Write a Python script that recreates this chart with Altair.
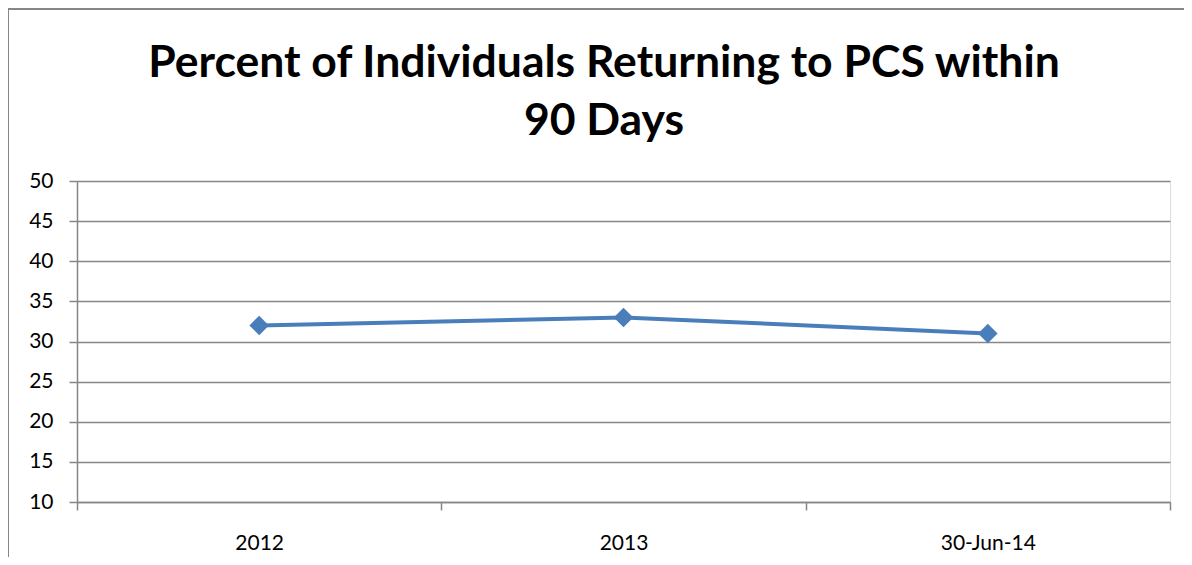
import altair as alt
import pandas as pd

categories = ["2012", "2013", "30-Jun-14"]
values = [32, 33, 31]
y_ticks = [10, 15, 20, 25, 30, 35, 40, 45, 50]
title_lines = ["Percent of Individuals Returning to PCS within", "90 Days"]

df = pd.DataFrame({"period": categories, "pct": values})

FONT = "Lato"
GRAY = "#868686"
BLUE = "#4a7ebb"

x_enc = alt.X(
    "period:N",
    sort=categories,
    scale=alt.Scale(paddingInner=0, paddingOuter=0),
    axis=alt.Axis(
        title=None, labelAngle=0, tickBand="extent", grid=False,
        domainColor=GRAY, domainWidth=1.5, tickColor=GRAY, tickWidth=1.5,
        tickSize=8, labelPadding=22, labelFontSize=21, labelFont=FONT,
        labelColor="black",
    ),
)
y_enc = alt.Y(
    "pct:Q",
    scale=alt.Scale(domain=[10, 50], nice=False, zero=False),
    axis=alt.Axis(
        title=None, values=y_ticks, grid=True, gridColor=GRAY, gridWidth=1.5,
        domainColor=GRAY, domainWidth=1.5, tickColor=GRAY, tickWidth=1.5,
        tickSize=8, labelPadding=16, labelFontSize=21, labelFont=FONT,
        labelColor="black",
    ),
)

line = alt.Chart(df).mark_line(color=BLUE, strokeWidth=4).encode(x=x_enc, y=y_enc)
pts = alt.Chart(df).mark_point(
    shape="diamond", filled=True, color=BLUE, size=380, opacity=1
).encode(x=x_enc, y=y_enc)

frame_df = pd.DataFrame({"k": [0]})
frame_left = alt.Chart(frame_df).mark_rule(color=GRAY, strokeWidth=2).encode(
    x=alt.value(-69), y=alt.value(-172), y2=alt.value(420)
)
frame_top = alt.Chart(frame_df).mark_rule(color=GRAY, strokeWidth=2).encode(
    x=alt.value(-69), x2=alt.value(1120), y=alt.value(-172)
)
title = alt.Chart(frame_df).mark_text(
    font=FONT, fontSize=44.5, fontWeight="bold", color="black",
    lineHeight=58, align="center", baseline="alphabetic",
).encode(x=alt.value(527), y=alt.value(-104), text=alt.value(title_lines))

chart = alt.layer(frame_left, frame_top, title, line, pts).properties(
    width=1093,
    height=321,
    autosize=alt.AutoSizeParams(type="none"),
    padding={"left": 69, "top": 173, "right": 14, "bottom": 55},
).configure_view(stroke=None).configure(background="white")

chart.save("out.html", embed_options={"renderer": "svg", "actions": False})
